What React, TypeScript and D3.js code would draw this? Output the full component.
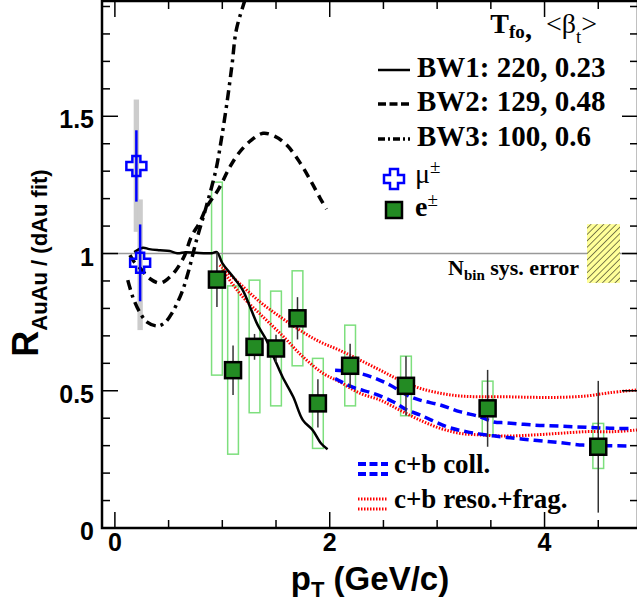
import React, { useEffect, useRef } from "react";
import * as d3 from "d3";

// e± points: pT, R, stat error, sys box edges
const ePt = [0.95, 1.1, 1.3, 1.5, 1.7, 1.89, 2.19, 2.71, 3.47, 4.5];
const eR = [0.905, 0.575, 0.66, 0.654, 0.764, 0.454, 0.591, 0.518, 0.436, 0.296];
const eStat = [0.1, 0.09, 0.047, 0.05, 0.077, 0.088, 0.08, 0.108, 0.14, 0.24];
const eSysHi = [1.26, 0.882, 0.903, 0.863, 0.937, 0.618, 0.739, 0.626, 0.535, 0.381];
const eSysLo = [0.557, 0.269, 0.42, 0.445, 0.591, 0.29, 0.445, 0.409, 0.339, 0.217];

// mu± points
const muPt = [0.2, 0.235];
const muR = [1.319, 0.966];
const muStat = [0.13, 0.14];
const muSysHi = [1.561, 1.197];
const muSysLo = [1.079, 0.721];

// blast wave curves
const bw1Pt = [0.18, 0.26, 0.32, 0.42, 0.51, 0.58, 0.66, 0.74, 0.84, 0.9, 0.95, 1.0, 1.1, 1.19, 1.27, 1.33, 1.41, 1.49, 1.56, 1.66, 1.75, 1.84, 1.92, 1.98];
const bw1R = [1.005, 1.021, 1.016, 1.012, 1.009, 1.001, 1.005, 1.003, 1.001, 1.001, 1.005, 0.965, 0.915, 0.867, 0.794, 0.739, 0.685, 0.612, 0.551, 0.478, 0.393, 0.357, 0.308, 0.287];
const bw2Pt = [0.14, 0.18, 0.25, 0.32, 0.42, 0.49, 0.57, 0.65, 0.71, 0.79, 0.86, 0.96, 1.07, 1.16, 1.27, 1.38, 1.49, 1.6, 1.72, 1.83, 1.91, 1.97];
const bw2R = [0.994, 0.969, 0.94, 0.91, 0.892, 0.907, 0.94, 0.994, 1.06, 1.114, 1.173, 1.231, 1.315, 1.369, 1.413, 1.438, 1.427, 1.395, 1.333, 1.26, 1.202, 1.162];
const bw3Pt = [0.12, 0.17, 0.23, 0.3, 0.4, 0.47, 0.53, 0.62, 0.68, 0.76, 0.85, 0.94, 0.99, 1.04, 1.09, 1.13, 1.21, 1.25];
const bw3R = [0.903, 0.838, 0.787, 0.75, 0.736, 0.75, 0.782, 0.855, 0.928, 1.049, 1.17, 1.304, 1.413, 1.54, 1.686, 1.814, 1.923, 1.977];

// c+b collisional band
const collPt = [2.05, 2.22, 2.4, 2.56, 2.72, 2.84, 3.03, 3.21, 3.4, 3.52, 3.65, 3.9, 4.14, 4.39, 4.64, 4.8];
const collHi = [0.575, 0.569, 0.549, 0.521, 0.484, 0.466, 0.448, 0.424, 0.405, 0.387, 0.383, 0.375, 0.371, 0.367, 0.363, 0.363];
const collLoPt = [2.05, 2.22, 2.4, 2.59, 2.72, 2.84, 3.09, 3.27, 3.46, 3.65, 3.9, 4.14, 4.36, 4.55, 4.8];
const collLo = [0.545, 0.512, 0.491, 0.46, 0.43, 0.412, 0.369, 0.351, 0.339, 0.33, 0.32, 0.311, 0.302, 0.3, 0.299];

// c+b resonance + fragmentation band
const resoHiPt = [0.975, 1.16, 1.35, 1.54, 1.72, 1.91, 2.09, 2.28, 2.47, 2.65, 2.84, 3.03, 3.21, 3.4, 3.65, 3.9, 4.14, 4.39, 4.61, 4.86];
const resoHi = [0.958, 0.891, 0.824, 0.769, 0.721, 0.678, 0.648, 0.612, 0.575, 0.539, 0.509, 0.491, 0.481, 0.478, 0.478, 0.476, 0.476, 0.481, 0.493, 0.503];
const resoLoPt = [1.0, 1.19, 1.38, 1.57, 1.75, 1.94, 2.09, 2.28, 2.47, 2.65, 2.84, 3.03, 3.21, 3.4, 3.65, 3.9, 4.14, 4.39, 4.64, 4.86];
const resoLo = [0.94, 0.842, 0.769, 0.697, 0.624, 0.563, 0.533, 0.491, 0.466, 0.43, 0.393, 0.363, 0.345, 0.339, 0.335, 0.339, 0.345, 0.351, 0.351, 0.357];

const nbinErr = 0.107;

const xMajor = [0, 2, 4];
const xMinor = [0.5, 1, 1.5, 2.5, 3, 3.5, 4.5];
const yMajor = [0, 0.5, 1, 1.5];
const yMinor = [0.1, 0.2, 0.3, 0.4, 0.6, 0.7, 0.8, 0.9, 1.1, 1.2, 1.3, 1.4, 1.6, 1.7, 1.8, 1.9];

const bwLabels = ["BW1: 220, 0.23", "BW2: 129, 0.48", "BW3: 100, 0.6"];

const SANS = "'Liberation Sans', Arial, sans-serif";
const SERIF = "'Liberation Serif', 'Times New Roman', serif";

const App = () => {
  const chartRef = useRef<SVGSVGElement>(null);

  useEffect(() => {
    const svg = d3.select(chartRef.current);
    svg.selectAll("*").remove();

    const x = d3.scaleLinear().domain([-0.12, 4.87]).range([102, 638]);
    const y = d3.scaleLinear().domain([0, 1.92]).range([528, 1]);
    const [x0, x1] = x.range();
    const [y0, y1] = y.range();

    const defs = svg.append("defs");
    defs.append("clipPath").attr("id", "frame")
      .append("rect").attr("x", x0).attr("y", y1).attr("width", x1 - x0).attr("height", y0 - y1);
    const pat = defs.append("pattern").attr("id", "hatch")
      .attr("patternUnits", "userSpaceOnUse").attr("width", 4.5).attr("height", 4.5)
      .attr("patternTransform", "rotate(45)");
    pat.append("rect").attr("width", 4.5).attr("height", 4.5).attr("fill", "#ffff99");
    pat.append("line").attr("x1", 0).attr("y1", 0).attr("x2", 0).attr("y2", 4.5)
      .attr("stroke", "#000").attr("stroke-width", 1);

    const plot = svg.append("g").attr("clip-path", "url(#frame)");

    // e± sys boxes
    ePt.forEach((p, i) => {
      plot.append("rect")
        .attr("x", x(p - 0.05)).attr("y", y(eSysHi[i]))
        .attr("width", x(p + 0.05) - x(p - 0.05)).attr("height", y(eSysLo[i]) - y(eSysHi[i]))
        .attr("fill", "none").attr("stroke", "#7ddf7d").attr("stroke-width", 1.5);
    });

    // mu± sys boxes
    muPt.forEach((p, i) => {
      plot.append("rect")
        .attr("x", x(p - 0.025)).attr("y", y(muSysHi[i]))
        .attr("width", x(p + 0.025) - x(p - 0.025)).attr("height", y(muSysLo[i]) - y(muSysHi[i]))
        .attr("fill", "#cccccc");
    });

    // unity line
    plot.append("line").attr("x1", x0).attr("x2", x1).attr("y1", y(1)).attr("y2", y(1))
      .attr("stroke", "#999").attr("stroke-width", 1.5);

    const line = (px: number[], py: number[]) =>
      d3.line<number>().x((d) => x(px[d])).y((d) => y(py[d]))
        .curve(d3.curveCatmullRom.alpha(0.5))(d3.range(px.length));

    const curve = (px: number[], py: number[], color: string, w: number, dash: string | null) => {
      const path = plot.append("path").attr("d", line(px, py))
        .attr("fill", "none").attr("stroke", color).attr("stroke-width", w);
      if (dash) path.attr("stroke-dasharray", dash);
    };

    curve(resoHiPt, resoHi, "#ff0000", 3, "1.5,1.5");
    curve(resoLoPt, resoLo, "#ff0000", 3, "1.5,1.5");
    curve(collPt, collHi, "#0000ff", 3.5, "9,5");
    curve(collLoPt, collLo, "#0000ff", 3.5, "9,5");
    curve(bw1Pt, bw1R, "#000", 2.5, null);
    curve(bw2Pt, bw2R, "#000", 3.5, "9,6");
    curve(bw3Pt, bw3R, "#000", 3.5, "10,5,3,5");

    // stat bars
    ePt.forEach((p, i) => {
      plot.append("line").attr("x1", x(p)).attr("x2", x(p))
        .attr("y1", y(eR[i] + eStat[i])).attr("y2", y(eR[i] - eStat[i]))
        .attr("stroke", "#333").attr("stroke-width", 1.5);
    });
    muPt.forEach((p, i) => {
      plot.append("line").attr("x1", x(p)).attr("x2", x(p))
        .attr("y1", y(muR[i] + muStat[i])).attr("y2", y(muR[i] - muStat[i]))
        .attr("stroke", "#0000ff").attr("stroke-width", 2.5);
    });

    const crossPath = (cx: number, cy: number) => {
      const s = 10, a = 4;
      const pts = [[-a, -s], [a, -s], [a, -a], [s, -a], [s, a], [a, a], [a, s], [-a, s], [-a, a], [-s, a], [-s, -a], [-a, -a]];
      return "M" + pts.map(([u, v]) => `${cx + u},${cy + v}`).join("L") + "Z";
    };
    const square = (g: any, cx: number, cy: number) =>
      g.append("rect").attr("x", cx - 8).attr("y", cy - 8).attr("width", 16).attr("height", 16)
        .attr("fill", "#238b23").attr("stroke", "#000").attr("stroke-width", 2.5);
    const cross = (g: any, cx: number, cy: number) =>
      g.append("path").attr("d", crossPath(cx, cy))
        .attr("fill", "none").attr("stroke", "#0000ff").attr("stroke-width", 2.5);

    ePt.forEach((p, i) => square(plot, x(p), y(eR[i])));
    muPt.forEach((p, i) => cross(plot, x(p), y(muR[i])));

    // frame
    svg.append("rect").attr("x", x0).attr("y", y1).attr("width", x1 - x0).attr("height", y0 - y1)
      .attr("fill", "none").attr("stroke", "#000").attr("stroke-width", 2.5);

    const ticks = svg.append("g").attr("stroke", "#000").attr("stroke-width", 1.5);
    const xTick = (v: number, len: number) => {
      ticks.append("line").attr("x1", x(v)).attr("x2", x(v)).attr("y1", y0).attr("y2", y0 - len);
      ticks.append("line").attr("x1", x(v)).attr("x2", x(v)).attr("y1", y1).attr("y2", y1 + len);
    };
    const yTick = (v: number, len: number) => {
      ticks.append("line").attr("y1", y(v)).attr("y2", y(v)).attr("x1", x0).attr("x2", x0 + len);
      ticks.append("line").attr("y1", y(v)).attr("y2", y(v)).attr("x1", x1).attr("x2", x1 - len);
    };
    xMajor.forEach((v) => xTick(v, 16));
    xMinor.forEach((v) => xTick(v, 8));
    yMajor.forEach((v) => yTick(v, 16));
    yMinor.forEach((v) => yTick(v, 8));

    xMajor.forEach((v) => {
      svg.append("text").attr("x", x(v)).attr("y", 551).attr("text-anchor", "middle")
        .attr("font-family", SANS).attr("font-weight", "bold").attr("font-size", 25).text(v);
    });
    yMajor.forEach((v) => {
      svg.append("text").attr("x", 94).attr("y", y(v) + 12).attr("text-anchor", "end")
        .attr("font-family", SANS).attr("font-weight", "bold").attr("font-size", 25).text(v);
    });

    // axis titles
    const xt = svg.append("text").attr("x", 370).attr("y", 590).attr("text-anchor", "middle")
      .attr("font-family", SANS).attr("font-weight", "bold").attr("font-size", 33);
    xt.append("tspan").text("p");
    xt.append("tspan").attr("font-size", 22).attr("dy", 7).text("T");
    xt.append("tspan").attr("dy", -7).text(" (GeV/c)");

    const yt = svg.append("text").attr("transform", "translate(38,263) rotate(-90)")
      .attr("text-anchor", "middle").attr("font-family", SANS).attr("font-weight", "bold").attr("font-size", 36);
    yt.append("tspan").text("R");
    yt.append("tspan").attr("font-size", 22).attr("dy", 9).text("AuAu / (dAu fit)");

    // legend (top right)
    const lg = svg.append("g").attr("font-family", SERIF).attr("font-weight", "bold");
    const head = lg.append("text").attr("x", 597).attr("y", 33).attr("text-anchor", "end").attr("font-size", 28)
      .attr("font-weight", "normal").style("white-space", "pre");
    head.append("tspan").attr("font-weight", "bold").text("T");
    head.append("tspan").attr("font-weight", "bold").attr("font-size", 19).attr("dy", 5).text("fo");
    head.append("tspan").attr("font-weight", "bold").text(",");
    head.append("tspan").attr("dy", -5).text("  <β");
    head.append("tspan").attr("font-size", 19).attr("dy", 10).text("t");
    head.append("tspan").attr("dy", -10).text(">");

    const bwDash = [null, "8,3.5", "7,3,2,3"];
    const bwBase = [77, 111, 146];
    bwLabels.forEach((t, i) => {
      const l = lg.append("line").attr("x1", 378).attr("x2", 410).attr("y1", bwBase[i] - 7).attr("y2", bwBase[i] - 7)
        .attr("stroke", "#000").attr("stroke-width", i === 0 ? 2.5 : 3.5);
      if (bwDash[i]) l.attr("stroke-dasharray", bwDash[i]);
      lg.append("text").attr("x", 417).attr("y", bwBase[i]).attr("font-size", 29).text(t);
    });

    cross(lg, 394, 179);
    const mu = lg.append("text").attr("x", 415).attr("y", 183).attr("font-size", 28).attr("font-weight", "normal");
    mu.append("tspan").text("μ");
    mu.append("tspan").attr("font-size", 19).attr("dy", -10).text("±");
    square(lg, 394, 210);
    const el = lg.append("text").attr("x", 415).attr("y", 216).attr("font-size", 28);
    el.append("tspan").text("e");
    el.append("tspan").attr("font-size", 19).attr("font-weight", "normal").attr("dy", -10).text("±");

    // Nbin sys error
    svg.append("rect").attr("x", 587).attr("y", y(1 + nbinErr)).attr("width", 33)
      .attr("height", y(1 - nbinErr) - y(1 + nbinErr)).attr("fill", "url(#hatch)");
    const nb = lg.append("text").attr("x", 448).attr("y", 275).attr("font-size", 22);
    nb.append("tspan").text("N");
    nb.append("tspan").attr("font-size", 15).attr("dy", 5).text("bin");
    nb.append("tspan").attr("dy", -5).text(" sys. error");

    // band legend
    [464, 474].forEach((ly) => {
      lg.append("line").attr("x1", 358).attr("x2", 388).attr("y1", ly).attr("y2", ly)
        .attr("stroke", "#0000ff").attr("stroke-width", 4).attr("stroke-dasharray", "8,3.5");
    });
    [499, 509].forEach((ly) => {
      lg.append("line").attr("x1", 358).attr("x2", 388).attr("y1", ly).attr("y2", ly)
        .attr("stroke", "#ff0000").attr("stroke-width", 3).attr("stroke-dasharray", "1.5,1.5");
    });
    lg.append("text").attr("x", 394).attr("y", 473).attr("font-size", 27).text("c+b coll.");
    lg.append("text").attr("x", 394).attr("y", 508).attr("font-size", 27).text("c+b reso.+frag.");
  }, []);

  return (
    <svg
      ref={chartRef}
      width={637}
      height={602}
      style={{ position: "absolute", left: 0, top: 0, background: "#fff" }}
    ></svg>
  );
};

export default App;
